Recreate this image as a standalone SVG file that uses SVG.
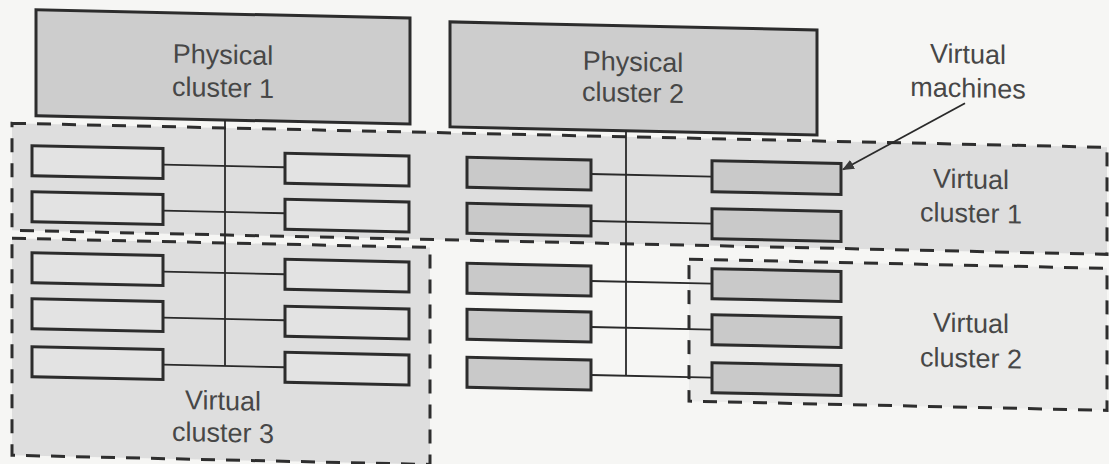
<svg xmlns="http://www.w3.org/2000/svg" width="1109" height="464" viewBox="0 0 1109 464">
  <style>
    .vc { stroke: #2e2e2e; stroke-width: 3; stroke-dasharray: 14 11; }
    .pc { fill: #cdcdcd; stroke: #2c2c2c; stroke-width: 3; }
    .vm1 { fill: #e3e3e3; stroke: #2c2c2c; stroke-width: 3; }
    .vm2 { fill: #c9c9c9; stroke: #2c2c2c; stroke-width: 3; }
    .link { fill: none; stroke: #2a2a2a; stroke-width: 1.8; }
    .label { font-family: "Liberation Sans", Arial, sans-serif; font-size: 27px; fill: #474747; text-anchor: middle; }
  </style>
  <defs>
    <marker id="arrowhead" viewBox="0 0 12 10" refX="11" refY="5" markerWidth="12" markerHeight="10" markerUnits="userSpaceOnUse" orient="auto">
      <path d="M0,0 L12,5 L0,10 Z" fill="#3a3a3a"/>
    </marker>
  </defs>

  <rect x="0" y="0" width="1109" height="464" fill="#f6f6f4"/>

  <!-- the whole sheet sits on a slight slant -->
  <g transform="skewY(1.26)">
    <!-- virtual cluster regions -->
    <g id="virtual-cluster-1">
      <rect class="vc" x="12" y="123" width="1095" height="107" fill="#dedede"/>
      <text class="label" x="971" y="167">Virtual</text>
      <text class="label" x="971" y="201">cluster 1</text>
    </g>
    <g id="virtual-cluster-3">
      <rect class="vc" x="12" y="238" width="418" height="217" fill="#dedede"/>
      <text class="label" x="223" y="405">Virtual</text>
      <text class="label" x="223" y="437">cluster 3</text>
    </g>
    <g id="virtual-cluster-2">
      <rect class="vc" x="689" y="244" width="418" height="142" fill="#ebebea" stroke-width="2.5"/>
      <text class="label" x="971" y="311">Virtual</text>
      <text class="label" x="971" y="346">cluster 2</text>
    </g>

    <!-- physical clusters -->
    <g id="physical-cluster-1">
      <rect class="pc" x="36" y="9" width="374" height="106"/>
      <text class="label" x="223" y="59">Physical</text>
      <text class="label" x="223" y="92">cluster 1</text>
    </g>
    <g id="physical-cluster-2">
      <rect class="pc" x="450" y="12" width="367" height="105"/>
      <text class="label" x="633" y="57">Physical</text>
      <text class="label" x="633" y="88">cluster 2</text>
    </g>

    <!-- connectors: bus lines from each physical cluster to its VMs -->
    <g id="connectors">
      <path class="link" d="M225,115 V361"/>
      <path class="link" d="M163,161 H285 M163,207 H285 M163,268 H285 M163,314 H285 M163,361 H285"/>
      <path class="link" d="M626,117 V362"/>
      <path class="link" d="M591,161 H712 M591,208 H712 M591,268 H712 M591,314 H712 M591,362 H712"/>
      <path class="link" d="M965,82 L843,151" marker-end="url(#arrowhead)"/>
    </g>

    <!-- virtual machines hosted on physical cluster 1 -->
    <g id="pc1-vm-l1"><rect class="vm1" x="32" y="145" width="131" height="30"/></g>
    <g id="pc1-vm-l2"><rect class="vm1" x="32" y="191" width="131" height="30"/></g>
    <g id="pc1-vm-l3"><rect class="vm1" x="32" y="252" width="131" height="30"/></g>
    <g id="pc1-vm-l4"><rect class="vm1" x="32" y="298" width="131" height="30"/></g>
    <g id="pc1-vm-l5"><rect class="vm1" x="32" y="346" width="131" height="30"/></g>
    <g id="pc1-vm-r1"><rect class="vm1" x="285" y="147" width="124" height="30"/></g>
    <g id="pc1-vm-r2"><rect class="vm1" x="285" y="193" width="124" height="30"/></g>
    <g id="pc1-vm-r3"><rect class="vm1" x="285" y="253" width="124" height="30"/></g>
    <g id="pc1-vm-r4"><rect class="vm1" x="285" y="300" width="124" height="30"/></g>
    <g id="pc1-vm-r5"><rect class="vm1" x="285" y="346" width="124" height="30"/></g>

    <!-- virtual machines hosted on physical cluster 2 -->
    <g id="pc2-vm-l1"><rect class="vm2" x="467" y="147" width="124" height="30"/></g>
    <g id="pc2-vm-l2"><rect class="vm2" x="467" y="193" width="124" height="30"/></g>
    <g id="pc2-vm-l3"><rect class="vm2" x="467" y="253" width="124" height="30"/></g>
    <g id="pc2-vm-l4"><rect class="vm2" x="467" y="299" width="124" height="30"/></g>
    <g id="pc2-vm-l5"><rect class="vm2" x="467" y="347" width="124" height="30"/></g>
    <g id="pc2-vm-r1"><rect class="vm2" x="712" y="145" width="129" height="31"/></g>
    <g id="pc2-vm-r2"><rect class="vm2" x="712" y="193" width="129" height="30"/></g>
    <g id="pc2-vm-r3"><rect class="vm2" x="712" y="253" width="129" height="30"/></g>
    <g id="pc2-vm-r4"><rect class="vm2" x="712" y="299" width="129" height="30"/></g>
    <g id="pc2-vm-r5"><rect class="vm2" x="712" y="347" width="129" height="30"/></g>

    <g id="virtual-machines-label">
      <text class="label" x="968" y="42">Virtual</text>
      <text class="label" x="968" y="76">machines</text>
    </g>
  </g>
</svg>
